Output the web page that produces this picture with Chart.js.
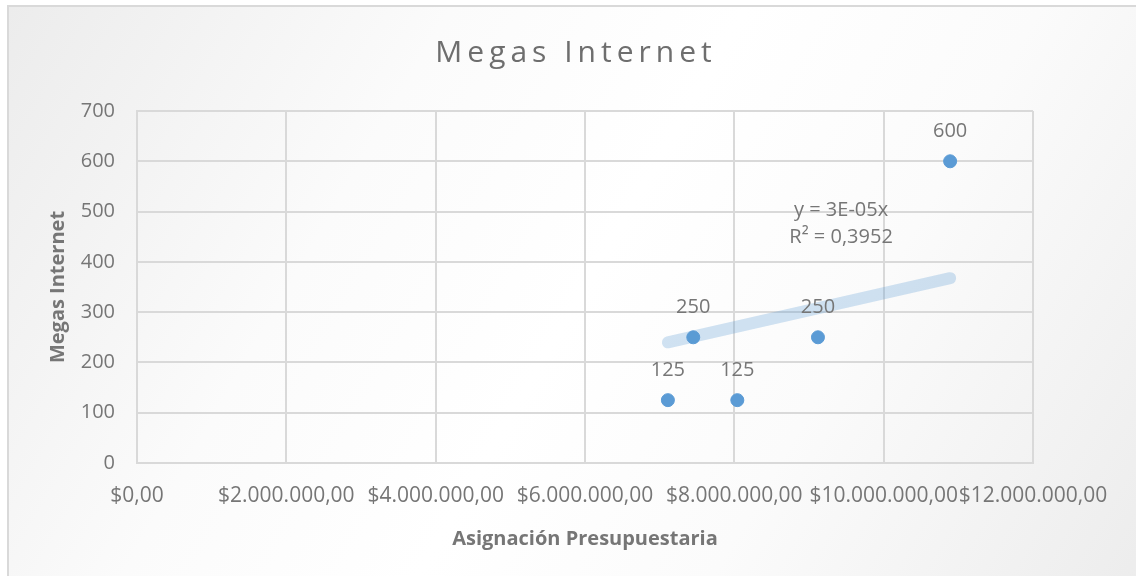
<!DOCTYPE html>
<html>
<head>
<meta charset="utf-8">
<script src="https://cdn.jsdelivr.net/npm/chart.js@4/dist/chart.umd.min.js"></script>
<style>
  html, body { margin: 0; padding: 0; }
  body { width: 1136px; height: 576px; overflow: hidden; background: #fff; }
  .frame {
    position: absolute; left: 7px; top: 5px; width: 1140px; height: 580px;
    border: 2px solid #d9d9d9;
    background: linear-gradient(120deg, #ececec 0%, #fbfbfb 30%, #ffffff 50%, #fbfbfb 70%, #ececec 100%);
  }
  #wrap { position: absolute; left: 0; top: 0; width: 1136px; height: 576px; }
</style>
</head>
<body>
<div class="frame"></div>
<div id="wrap"><canvas id="chart" width="1136" height="576"></canvas></div>
<script>
const asignacion = [7110000, 7450000, 8040000, 9120000, 10890000];
const megas = [125, 250, 125, 250, 600];
const xTicks = [0, 2000000, 4000000, 6000000, 8000000, 10000000, 12000000];
const yTicks = [0, 100, 200, 300, 400, 500, 600, 700];
const chartTitle = "Megas Internet";
const trendText = ["y = 3E-05x", "R² = 0,3952"];

const textGray = "#767676";
const ptBlue = "#5b9bd5";

// linear trend through origin (Excel "set intercept = 0")
let sxy = 0, sxx = 0;
asignacion.forEach((x, i) => { sxy += x * megas[i]; sxx += x * x; });
const slope = sxy / sxx;
const xMin = Math.min(...asignacion), xMax = Math.max(...asignacion);
const trend = [{x: xMin, y: slope * xMin}, {x: xMax, y: slope * xMax}];

function money(v) {
  let s = Math.round(v).toString().replace(/\B(?=(\d{3})+(?!\d))/g, ".");
  return "$" + s + ",00";
}

const labelsPlugin = {
  id: "labels",
  afterDatasetsDraw(chart) {
    const ctx = chart.ctx;
    const xs = chart.scales.x, ys = chart.scales.y;
    ctx.save();
    ctx.fillStyle = textGray;
    ctx.font = "20px 'Open Sans'";
    ctx.textAlign = "center";
    ctx.textBaseline = "middle";
    asignacion.forEach((x, i) => {
      ctx.fillText(megas[i], xs.getPixelForValue(x), ys.getPixelForValue(megas[i]) - 30);
    });
    // trend equation
    const tx = xs.getPixelForValue(9430000);
    ctx.fillText(trendText[0], tx, ys.getPixelForValue(503));
    ctx.fillText(trendText[1], tx, ys.getPixelForValue(448));

    // title, spaced out like the Excel one
    ctx.fillStyle = "#6e6e6e";
    ctx.font = "30px 'Open Sans'";
    ctx.letterSpacing = "5px";
    ctx.textBaseline = "alphabetic";
    ctx.fillText(chartTitle, 576, 62);
    ctx.restore();
  }
};

new Chart(document.getElementById("chart"), {
  type: "scatter",
  data: {
    datasets: [
      {
        label: "Megas Internet",
        data: asignacion.map((x, i) => ({x: x, y: megas[i]})),
        backgroundColor: ptBlue,
        borderColor: ptBlue,
        pointRadius: 6.5,
        pointHoverRadius: 6.5,
        order: 2
      },
      {
        type: "line",
        label: "trend",
        data: trend,
        borderColor: "rgba(91,155,213,0.28)",
        borderWidth: 12,
        borderCapStyle: "round",
        pointRadius: 0,
        fill: false,
        order: 1
      }
    ]
  },
  options: {
    responsive: false,
    animation: false,
    layout: { padding: { left: 0, right: 103, top: 111, bottom: 0 } },
    plugins: {
      legend: { display: false },
      tooltip: { enabled: false },
      title: { display: false }
    },
    scales: {
      x: {
        type: "linear",
        min: 0,
        max: 12000000,
        afterBuildTicks: s => { s.ticks = xTicks.map(v => ({value: v})); },
        afterFit: s => { s.height = 113; },
        ticks: {
          color: textGray,
          font: { family: "'Open Sans'", size: 21 },
          padding: 20,
          maxRotation: 0,
          autoSkip: false,
          callback: v => money(v)
        },
        grid: { color: "#d9d9d9", lineWidth: 2, drawTicks: false },
        border: { color: "#d9d9d9", width: 2 },
        title: {
          display: true,
          text: "Asignación Presupuestaria",
          color: textGray,
          font: { family: "'Open Sans'", size: 20, weight: "bold" },
          padding: { bottom: 25 }
        }
      },
      y: {
        min: 0,
        max: 700,
        afterBuildTicks: s => { s.ticks = yTicks.map(v => ({value: v})); },
        afterFit: s => { s.width = 137; },
        ticks: {
          color: textGray,
          font: { family: "'Open Sans'", size: 20 },
          padding: 22
        },
        grid: { color: "#d9d9d9", lineWidth: 2, drawTicks: false },
        border: { color: "#d9d9d9", width: 2 },
        title: {
          display: true,
          text: "Megas Internet",
          color: textGray,
          font: { family: "'Open Sans'", size: 20, weight: "bold" },
          padding: { top: 46 }
        }
      }
    }
  },
  plugins: [labelsPlugin]
});
</script>
</body>
</html>
